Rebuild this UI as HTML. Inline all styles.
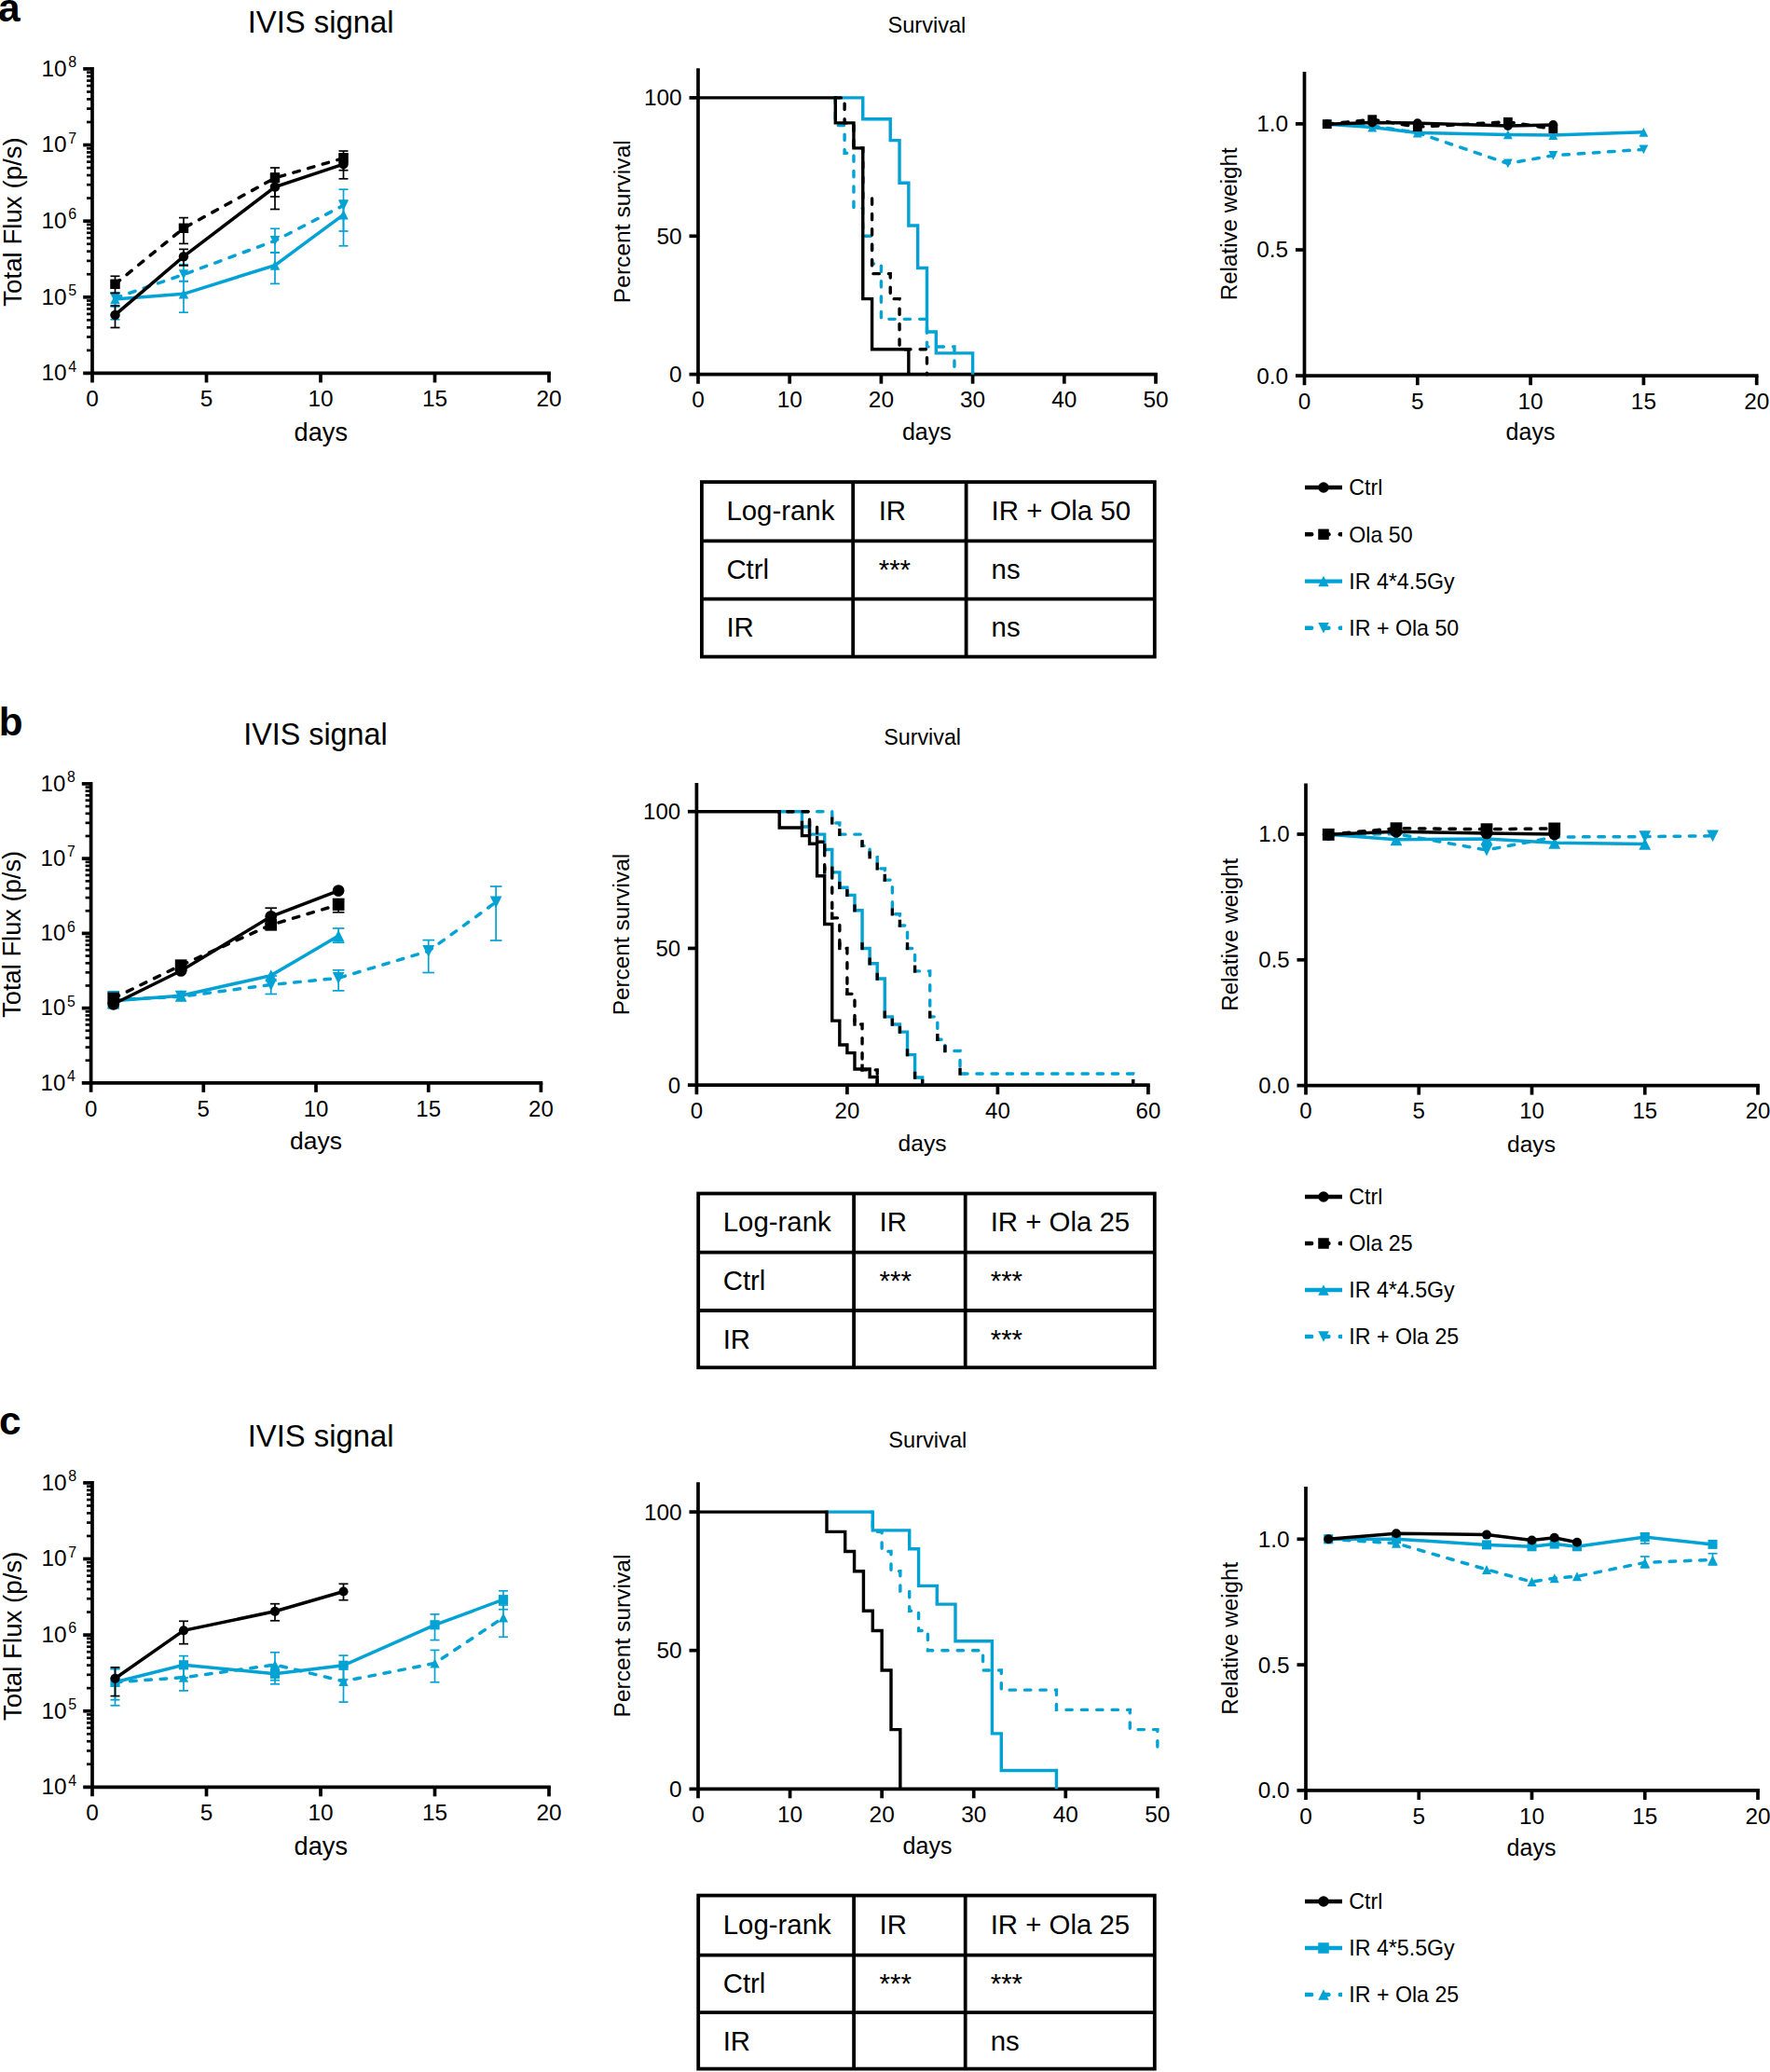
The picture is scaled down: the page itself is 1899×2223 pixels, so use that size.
<!DOCTYPE html>
<html lang="en">
<head>
<meta charset="utf-8">
<title>Figure</title>
<style>
html,body{margin:0;padding:0;background:#fff;}
body{width:1899px;height:2223px;overflow:hidden;}
svg{display:block;}
svg text{font-family:"Liberation Sans",sans-serif;fill:#000;}
</style>
</head>
<body>
<svg width="1899" height="2223" viewBox="0 0 1899 2223">
<rect width="1899" height="2223" fill="#fff"/>
<g id="panel-a">
<text x="-2" y="23" font-size="42.5" font-weight="bold">a</text>
<text x="344.1" y="35" font-size="32.8" text-anchor="middle">IVIS signal</text>
<line x1="99" y1="72.05" x2="99" y2="410.45" stroke="#000" stroke-width="3.7"/>
<line x1="89.2" y1="400.45" x2="590.85" y2="400.45" stroke="#000" stroke-width="3.7"/>
<text x="71.7" y="408.25" font-size="24.4" text-anchor="end">10</text>
<text x="73.3" y="398.75" font-size="16">4</text>
<line x1="93" y1="375.87" x2="99" y2="375.87" stroke="#000" stroke-width="2.7"/>
<line x1="93" y1="361.5" x2="99" y2="361.5" stroke="#000" stroke-width="2.7"/>
<line x1="93" y1="351.3" x2="99" y2="351.3" stroke="#000" stroke-width="2.7"/>
<line x1="93" y1="343.39" x2="99" y2="343.39" stroke="#000" stroke-width="2.7"/>
<line x1="93" y1="336.92" x2="99" y2="336.92" stroke="#000" stroke-width="2.7"/>
<line x1="93" y1="331.46" x2="99" y2="331.46" stroke="#000" stroke-width="2.7"/>
<line x1="93" y1="326.72" x2="99" y2="326.72" stroke="#000" stroke-width="2.7"/>
<line x1="93" y1="322.55" x2="99" y2="322.55" stroke="#000" stroke-width="2.7"/>
<line x1="89.2" y1="318.81" x2="99" y2="318.81" stroke="#000" stroke-width="3.7"/>
<text x="71.7" y="326.61" font-size="24.4" text-anchor="end">10</text>
<text x="73.3" y="317.11" font-size="16">5</text>
<line x1="93" y1="294.24" x2="99" y2="294.24" stroke="#000" stroke-width="2.7"/>
<line x1="93" y1="279.86" x2="99" y2="279.86" stroke="#000" stroke-width="2.7"/>
<line x1="93" y1="269.66" x2="99" y2="269.66" stroke="#000" stroke-width="2.7"/>
<line x1="93" y1="261.75" x2="99" y2="261.75" stroke="#000" stroke-width="2.7"/>
<line x1="93" y1="255.29" x2="99" y2="255.29" stroke="#000" stroke-width="2.7"/>
<line x1="93" y1="249.82" x2="99" y2="249.82" stroke="#000" stroke-width="2.7"/>
<line x1="93" y1="245.09" x2="99" y2="245.09" stroke="#000" stroke-width="2.7"/>
<line x1="93" y1="240.91" x2="99" y2="240.91" stroke="#000" stroke-width="2.7"/>
<line x1="89.2" y1="237.18" x2="99" y2="237.18" stroke="#000" stroke-width="3.7"/>
<text x="71.7" y="244.98" font-size="24.4" text-anchor="end">10</text>
<text x="73.3" y="235.48" font-size="16">6</text>
<line x1="93" y1="212.6" x2="99" y2="212.6" stroke="#000" stroke-width="2.7"/>
<line x1="93" y1="198.22" x2="99" y2="198.22" stroke="#000" stroke-width="2.7"/>
<line x1="93" y1="188.02" x2="99" y2="188.02" stroke="#000" stroke-width="2.7"/>
<line x1="93" y1="180.11" x2="99" y2="180.11" stroke="#000" stroke-width="2.7"/>
<line x1="93" y1="173.65" x2="99" y2="173.65" stroke="#000" stroke-width="2.7"/>
<line x1="93" y1="168.18" x2="99" y2="168.18" stroke="#000" stroke-width="2.7"/>
<line x1="93" y1="163.45" x2="99" y2="163.45" stroke="#000" stroke-width="2.7"/>
<line x1="93" y1="159.27" x2="99" y2="159.27" stroke="#000" stroke-width="2.7"/>
<line x1="89.2" y1="155.54" x2="99" y2="155.54" stroke="#000" stroke-width="3.7"/>
<text x="71.7" y="163.34" font-size="24.4" text-anchor="end">10</text>
<text x="73.3" y="153.84" font-size="16">7</text>
<line x1="93" y1="130.96" x2="99" y2="130.96" stroke="#000" stroke-width="2.7"/>
<line x1="93" y1="116.59" x2="99" y2="116.59" stroke="#000" stroke-width="2.7"/>
<line x1="93" y1="106.39" x2="99" y2="106.39" stroke="#000" stroke-width="2.7"/>
<line x1="93" y1="98.48" x2="99" y2="98.48" stroke="#000" stroke-width="2.7"/>
<line x1="93" y1="92.01" x2="99" y2="92.01" stroke="#000" stroke-width="2.7"/>
<line x1="93" y1="86.55" x2="99" y2="86.55" stroke="#000" stroke-width="2.7"/>
<line x1="93" y1="81.81" x2="99" y2="81.81" stroke="#000" stroke-width="2.7"/>
<line x1="93" y1="77.64" x2="99" y2="77.64" stroke="#000" stroke-width="2.7"/>
<line x1="89.2" y1="73.9" x2="99" y2="73.9" stroke="#000" stroke-width="3.7"/>
<text x="71.7" y="81.7" font-size="24.4" text-anchor="end">10</text>
<text x="73.3" y="72.2" font-size="16">8</text>
<text x="99" y="436.15" font-size="24.4" text-anchor="middle">0</text>
<line x1="221.5" y1="400.45" x2="221.5" y2="410.45" stroke="#000" stroke-width="3.7"/>
<text x="221.5" y="436.15" font-size="24.4" text-anchor="middle">5</text>
<line x1="344" y1="400.45" x2="344" y2="410.45" stroke="#000" stroke-width="3.7"/>
<text x="344" y="436.15" font-size="24.4" text-anchor="middle">10</text>
<line x1="466.5" y1="400.45" x2="466.5" y2="410.45" stroke="#000" stroke-width="3.7"/>
<text x="466.5" y="436.15" font-size="24.4" text-anchor="middle">15</text>
<line x1="589" y1="400.45" x2="589" y2="410.45" stroke="#000" stroke-width="3.7"/>
<text x="589" y="436.15" font-size="24.4" text-anchor="middle">20</text>
<text x="344.3" y="473" font-size="27.2" text-anchor="middle">days</text>
<text x="22.8" y="238" font-size="27.7" text-anchor="middle" transform="rotate(-90 22.8 238)">Total Flux (p/s)</text>
<line x1="123.5" y1="314.4" x2="123.5" y2="342.8" stroke="#03a2d4" stroke-width="1.7"/>
<line x1="118.5" y1="314.4" x2="128.5" y2="314.4" stroke="#03a2d4" stroke-width="1.7"/>
<line x1="118.5" y1="342.8" x2="128.5" y2="342.8" stroke="#03a2d4" stroke-width="1.7"/>
<line x1="197" y1="283.7" x2="197" y2="301.7" stroke="#03a2d4" stroke-width="1.7"/>
<line x1="192" y1="283.7" x2="202" y2="283.7" stroke="#03a2d4" stroke-width="1.7"/>
<line x1="192" y1="301.7" x2="202" y2="301.7" stroke="#03a2d4" stroke-width="1.7"/>
<line x1="295" y1="245.3" x2="295" y2="271" stroke="#03a2d4" stroke-width="1.7"/>
<line x1="290" y1="245.3" x2="300" y2="245.3" stroke="#03a2d4" stroke-width="1.7"/>
<line x1="290" y1="271" x2="300" y2="271" stroke="#03a2d4" stroke-width="1.7"/>
<line x1="368.5" y1="203.2" x2="368.5" y2="248" stroke="#03a2d4" stroke-width="1.7"/>
<line x1="363.5" y1="203.2" x2="373.5" y2="203.2" stroke="#03a2d4" stroke-width="1.7"/>
<line x1="363.5" y1="248" x2="373.5" y2="248" stroke="#03a2d4" stroke-width="1.7"/>
<path d="M123.5,319.8 L197,294.5 L295,258.3 L368.5,220.4" fill="none" stroke="#03a2d4" stroke-width="3.5" stroke-dasharray="6.5 9.75" stroke-linecap="round"/>
<polygon points="123.5,325.05 128.75,314.55 118.25,314.55" fill="#03a2d4"/>
<polygon points="197,299.75 202.25,289.25 191.75,289.25" fill="#03a2d4"/>
<polygon points="295,263.55 300.25,253.05 289.75,253.05" fill="#03a2d4"/>
<polygon points="368.5,225.65 373.75,215.15 363.25,215.15" fill="#03a2d4"/>
<line x1="123.5" y1="314.4" x2="123.5" y2="329" stroke="#03a2d4" stroke-width="1.7"/>
<line x1="118.5" y1="314.4" x2="128.5" y2="314.4" stroke="#03a2d4" stroke-width="1.7"/>
<line x1="118.5" y1="329" x2="128.5" y2="329" stroke="#03a2d4" stroke-width="1.7"/>
<line x1="197" y1="301.7" x2="197" y2="335.2" stroke="#03a2d4" stroke-width="1.7"/>
<line x1="192" y1="301.7" x2="202" y2="301.7" stroke="#03a2d4" stroke-width="1.7"/>
<line x1="192" y1="335.2" x2="202" y2="335.2" stroke="#03a2d4" stroke-width="1.7"/>
<line x1="295" y1="271" x2="295" y2="304.4" stroke="#03a2d4" stroke-width="1.7"/>
<line x1="290" y1="271" x2="300" y2="271" stroke="#03a2d4" stroke-width="1.7"/>
<line x1="290" y1="304.4" x2="300" y2="304.4" stroke="#03a2d4" stroke-width="1.7"/>
<line x1="368.5" y1="215" x2="368.5" y2="263.8" stroke="#03a2d4" stroke-width="1.7"/>
<line x1="363.5" y1="215" x2="373.5" y2="215" stroke="#03a2d4" stroke-width="1.7"/>
<line x1="363.5" y1="263.8" x2="373.5" y2="263.8" stroke="#03a2d4" stroke-width="1.7"/>
<path d="M123.5,321.1 L197,315.3 L295,284.6 L368.5,230.3" fill="none" stroke="#03a2d4" stroke-width="3.5"/>
<polygon points="123.5,315.85 128.75,326.35 118.25,326.35" fill="#03a2d4"/>
<polygon points="197,310.05 202.25,320.55 191.75,320.55" fill="#03a2d4"/>
<polygon points="295,279.35 300.25,289.85 289.75,289.85" fill="#03a2d4"/>
<polygon points="368.5,225.05 373.75,235.55 363.25,235.55" fill="#03a2d4"/>
<line x1="123.5" y1="296.3" x2="123.5" y2="314.4" stroke="#000" stroke-width="1.7"/>
<line x1="118.5" y1="296.3" x2="128.5" y2="296.3" stroke="#000" stroke-width="1.7"/>
<line x1="118.5" y1="314.4" x2="128.5" y2="314.4" stroke="#000" stroke-width="1.7"/>
<line x1="197" y1="233.6" x2="197" y2="261.4" stroke="#000" stroke-width="1.7"/>
<line x1="192" y1="233.6" x2="202" y2="233.6" stroke="#000" stroke-width="1.7"/>
<line x1="192" y1="261.4" x2="202" y2="261.4" stroke="#000" stroke-width="1.7"/>
<line x1="295" y1="180" x2="295" y2="211" stroke="#000" stroke-width="1.7"/>
<line x1="290" y1="180" x2="300" y2="180" stroke="#000" stroke-width="1.7"/>
<line x1="290" y1="211" x2="300" y2="211" stroke="#000" stroke-width="1.7"/>
<line x1="368.5" y1="162" x2="368.5" y2="182.7" stroke="#000" stroke-width="1.7"/>
<line x1="363.5" y1="162" x2="373.5" y2="162" stroke="#000" stroke-width="1.7"/>
<line x1="363.5" y1="182.7" x2="373.5" y2="182.7" stroke="#000" stroke-width="1.7"/>
<path d="M123.5,304.8 L197,244.8 L295,190.9 L368.5,169.7" fill="none" stroke="#000" stroke-width="3.5" stroke-dasharray="6.5 9.75" stroke-linecap="round"/>
<rect x="118.25" y="299.55" width="10.5" height="10.5" fill="#000"/>
<rect x="191.75" y="239.55" width="10.5" height="10.5" fill="#000"/>
<rect x="289.75" y="185.65" width="10.5" height="10.5" fill="#000"/>
<rect x="363.25" y="164.45" width="10.5" height="10.5" fill="#000"/>
<line x1="123.5" y1="328" x2="123.5" y2="351.5" stroke="#000" stroke-width="1.7"/>
<line x1="118.5" y1="328" x2="128.5" y2="328" stroke="#000" stroke-width="1.7"/>
<line x1="118.5" y1="351.5" x2="128.5" y2="351.5" stroke="#000" stroke-width="1.7"/>
<line x1="197" y1="267.4" x2="197" y2="284.9" stroke="#000" stroke-width="1.7"/>
<line x1="192" y1="267.4" x2="202" y2="267.4" stroke="#000" stroke-width="1.7"/>
<line x1="192" y1="284.9" x2="202" y2="284.9" stroke="#000" stroke-width="1.7"/>
<line x1="295" y1="186" x2="295" y2="224.5" stroke="#000" stroke-width="1.7"/>
<line x1="290" y1="186" x2="300" y2="186" stroke="#000" stroke-width="1.7"/>
<line x1="290" y1="224.5" x2="300" y2="224.5" stroke="#000" stroke-width="1.7"/>
<line x1="368.5" y1="165" x2="368.5" y2="191.8" stroke="#000" stroke-width="1.7"/>
<line x1="363.5" y1="165" x2="373.5" y2="165" stroke="#000" stroke-width="1.7"/>
<line x1="363.5" y1="191.8" x2="373.5" y2="191.8" stroke="#000" stroke-width="1.7"/>
<path d="M123.5,337.9 L197,275.2 L295,200.5 L368.5,176.1" fill="none" stroke="#000" stroke-width="3.5"/>
<circle cx="123.5" cy="337.9" r="5.25" fill="#000"/>
<circle cx="197" cy="275.2" r="5.25" fill="#000"/>
<circle cx="295" cy="200.5" r="5.25" fill="#000"/>
<circle cx="368.5" cy="176.1" r="5.25" fill="#000"/>
<text x="994.4" y="35.3" font-size="23.6" text-anchor="middle">Survival</text>
<line x1="749" y1="73.2" x2="749" y2="411.7" stroke="#000" stroke-width="3.7"/>
<line x1="739.5" y1="401.7" x2="1241.85" y2="401.7" stroke="#000" stroke-width="3.7"/>
<text x="731.7" y="410.1" font-size="24.4" text-anchor="end">0</text>
<line x1="739.5" y1="253.3" x2="749" y2="253.3" stroke="#000" stroke-width="3.7"/>
<text x="731.7" y="261.7" font-size="24.4" text-anchor="end">50</text>
<line x1="739.5" y1="104.9" x2="749" y2="104.9" stroke="#000" stroke-width="3.7"/>
<text x="731.7" y="113.3" font-size="24.4" text-anchor="end">100</text>
<text x="749" y="437.3" font-size="24.4" text-anchor="middle">0</text>
<line x1="847.2" y1="401.7" x2="847.2" y2="411.7" stroke="#000" stroke-width="3.7"/>
<text x="847.2" y="437.3" font-size="24.4" text-anchor="middle">10</text>
<line x1="945.4" y1="401.7" x2="945.4" y2="411.7" stroke="#000" stroke-width="3.7"/>
<text x="945.4" y="437.3" font-size="24.4" text-anchor="middle">20</text>
<line x1="1043.6" y1="401.7" x2="1043.6" y2="411.7" stroke="#000" stroke-width="3.7"/>
<text x="1043.6" y="437.3" font-size="24.4" text-anchor="middle">30</text>
<line x1="1141.8" y1="401.7" x2="1141.8" y2="411.7" stroke="#000" stroke-width="3.7"/>
<text x="1141.8" y="437.3" font-size="24.4" text-anchor="middle">40</text>
<line x1="1240" y1="401.7" x2="1240" y2="411.7" stroke="#000" stroke-width="3.7"/>
<text x="1240" y="437.3" font-size="24.4" text-anchor="middle">50</text>
<text x="994.3" y="471.5" font-size="25" text-anchor="middle">days</text>
<text x="676" y="237.7" font-size="24.6" text-anchor="middle" transform="rotate(-90 676 237.7)">Percent survival</text>
<path d="M894.34,104.9 H896.3 V134.58 H906.12 V164.26 H915.94 V223.62 H925.76 V253.3 H935.58 V282.98 H945.4 V342.34 H994.5 V372.02 H1023.96 V401.7" fill="none" stroke="#03a2d4" stroke-width="3.4" stroke-dasharray="6.3 10.1" stroke-dashoffset="145.84" stroke-linecap="round"/>
<path d="M894.34,104.9 H925.76 V127.75 H955.22 V150.61 H965.04 V196.31 H974.86 V242.02 H984.68 V287.43 H994.5 V355.99 H1004.32 V378.85 H1043.6 V401.7" fill="none" stroke="#03a2d4" stroke-width="3.4"/>
<path d="M894.34,104.9 H906.12 V131.91 H915.94 V158.92 H925.76 V212.94 H935.58 V293.66 H955.22 V320.67 H965.04 V374.69 H994.5 V401.7" fill="none" stroke="#000" stroke-width="3.4" stroke-dasharray="6.3 10.1" stroke-dashoffset="145.84" stroke-linecap="round"/>
<path d="M749,104.9 H896.3 V131.91 H915.94 V158.92 H925.76 V320.67 H935.58 V374.69 H974.86 V401.7" fill="none" stroke="#000" stroke-width="3.4"/>
<line x1="1399.5" y1="76.9" x2="1399.5" y2="413.2" stroke="#000" stroke-width="3.7"/>
<line x1="1390" y1="403.2" x2="1886.55" y2="403.2" stroke="#000" stroke-width="3.7"/>
<text x="1382.2" y="411.6" font-size="24.4" text-anchor="end">0.0</text>
<line x1="1390" y1="268.05" x2="1399.5" y2="268.05" stroke="#000" stroke-width="3.7"/>
<text x="1382.2" y="276.45" font-size="24.4" text-anchor="end">0.5</text>
<line x1="1390" y1="132.9" x2="1399.5" y2="132.9" stroke="#000" stroke-width="3.7"/>
<text x="1382.2" y="141.3" font-size="24.4" text-anchor="end">1.0</text>
<text x="1399.5" y="438.8" font-size="24.4" text-anchor="middle">0</text>
<line x1="1520.8" y1="403.2" x2="1520.8" y2="413.2" stroke="#000" stroke-width="3.7"/>
<text x="1520.8" y="438.8" font-size="24.4" text-anchor="middle">5</text>
<line x1="1642.1" y1="403.2" x2="1642.1" y2="413.2" stroke="#000" stroke-width="3.7"/>
<text x="1642.1" y="438.8" font-size="24.4" text-anchor="middle">10</text>
<line x1="1763.4" y1="403.2" x2="1763.4" y2="413.2" stroke="#000" stroke-width="3.7"/>
<text x="1763.4" y="438.8" font-size="24.4" text-anchor="middle">15</text>
<line x1="1884.7" y1="403.2" x2="1884.7" y2="413.2" stroke="#000" stroke-width="3.7"/>
<text x="1884.7" y="438.8" font-size="24.4" text-anchor="middle">20</text>
<text x="1642" y="472" font-size="25" text-anchor="middle">days</text>
<text x="1327" y="240.3" font-size="24.2" text-anchor="middle" transform="rotate(-90 1327 240.3)">Relative weight</text>
<path d="M1423.76,133.2 L1472.28,135 L1520.8,142.5 L1617.84,175.4 L1666.36,166.8 L1763.4,160.3" fill="none" stroke="#03a2d4" stroke-width="3.5" stroke-dasharray="6.5 9.75" stroke-linecap="round"/>
<polygon points="1423.76,138.1 1428.66,128.3 1418.86,128.3" fill="#03a2d4"/>
<polygon points="1472.28,139.9 1477.18,130.1 1467.38,130.1" fill="#03a2d4"/>
<polygon points="1520.8,147.4 1525.7,137.6 1515.9,137.6" fill="#03a2d4"/>
<polygon points="1617.84,180.3 1622.74,170.5 1612.94,170.5" fill="#03a2d4"/>
<polygon points="1666.36,171.7 1671.26,161.9 1661.46,161.9" fill="#03a2d4"/>
<polygon points="1763.4,165.2 1768.3,155.4 1758.5,155.4" fill="#03a2d4"/>
<path d="M1423.76,133.2 L1472.28,136.6 L1520.8,142.5 L1617.84,144.4 L1666.36,145.1 L1763.4,141.8" fill="none" stroke="#03a2d4" stroke-width="3.5"/>
<polygon points="1423.76,128.3 1428.66,138.1 1418.86,138.1" fill="#03a2d4"/>
<polygon points="1472.28,131.7 1477.18,141.5 1467.38,141.5" fill="#03a2d4"/>
<polygon points="1520.8,137.6 1525.7,147.4 1515.9,147.4" fill="#03a2d4"/>
<polygon points="1617.84,139.5 1622.74,149.3 1612.94,149.3" fill="#03a2d4"/>
<polygon points="1666.36,140.2 1671.26,150 1661.46,150" fill="#03a2d4"/>
<polygon points="1763.4,136.9 1768.3,146.7 1758.5,146.7" fill="#03a2d4"/>
<path d="M1423.76,133.2 L1472.28,128.2 L1520.8,136.2 L1617.84,130.8 L1666.36,138.2" fill="none" stroke="#000" stroke-width="3.5" stroke-dasharray="6.5 9.75" stroke-linecap="round"/>
<rect x="1418.86" y="128.3" width="9.8" height="9.8" fill="#000"/>
<rect x="1467.38" y="123.3" width="9.8" height="9.8" fill="#000"/>
<rect x="1515.9" y="131.3" width="9.8" height="9.8" fill="#000"/>
<rect x="1612.94" y="125.9" width="9.8" height="9.8" fill="#000"/>
<rect x="1661.46" y="133.3" width="9.8" height="9.8" fill="#000"/>
<path d="M1423.76,133.2 L1472.28,131.6 L1520.8,132.1 L1617.84,135 L1666.36,133.9" fill="none" stroke="#000" stroke-width="3.5"/>
<circle cx="1423.76" cy="133.2" r="4.9" fill="#000"/>
<circle cx="1472.28" cy="131.6" r="4.9" fill="#000"/>
<circle cx="1520.8" cy="132.1" r="4.9" fill="#000"/>
<circle cx="1617.84" cy="135" r="4.9" fill="#000"/>
<circle cx="1666.36" cy="133.9" r="4.9" fill="#000"/>
<rect x="752.9" y="517.1" width="485.9" height="187.5" fill="none" stroke="#000" stroke-width="3.8"/>
<line x1="915.2" y1="517.1" x2="915.2" y2="704.6" stroke="#000" stroke-width="3.8"/>
<line x1="1036.6" y1="517.1" x2="1036.6" y2="704.6" stroke="#000" stroke-width="3.8"/>
<line x1="752.9" y1="580.4" x2="1238.8" y2="580.4" stroke="#000" stroke-width="3.8"/>
<line x1="752.9" y1="642.6" x2="1238.8" y2="642.6" stroke="#000" stroke-width="3.8"/>
<text x="779.4" y="557.8" font-size="29.4">Log-rank</text>
<text x="942.7" y="557.8" font-size="29.4">IR</text>
<text x="1063.6" y="557.8" font-size="29.4">IR + Ola 50</text>
<text x="779.4" y="621.4" font-size="29.4">Ctrl</text>
<text x="942.7" y="621.4" font-size="29.4">***</text>
<text x="1063.6" y="621.4" font-size="29.4">ns</text>
<text x="779.4" y="682.9" font-size="29.4">IR</text>
<text x="1063.6" y="682.9" font-size="29.4">ns</text>
<line x1="1400" y1="523" x2="1440" y2="523" stroke="#000" stroke-width="4.4"/>
<circle cx="1420" cy="523" r="5.75" fill="#000"/>
<text x="1447.3" y="531.2" font-size="23.2">Ctrl</text>
<svg x="1400" y="567.3" width="40" height="12" viewBox="0 0 40 12">
<line x1="-3" y1="6" x2="7.2" y2="6" stroke="#000" stroke-width="4.4" stroke-linecap="round"/>
<line x1="19.9" y1="6" x2="25.5" y2="6" stroke="#000" stroke-width="4.4" stroke-linecap="round"/>
<line x1="37.7" y1="6" x2="46" y2="6" stroke="#000" stroke-width="4.4" stroke-linecap="round"/>
</svg>
<rect x="1414.25" y="567.55" width="11.5" height="11.5" fill="#000"/>
<text x="1447.3" y="581.5" font-size="23.2">Ola 50</text>
<line x1="1400" y1="623.6" x2="1440" y2="623.6" stroke="#03a2d4" stroke-width="4.4"/>
<polygon points="1420,617.85 1425.75,629.35 1414.25,629.35" fill="#03a2d4"/>
<text x="1447.3" y="631.8" font-size="23.2">IR 4*4.5Gy</text>
<svg x="1400" y="667.7" width="40" height="12" viewBox="0 0 40 12">
<line x1="-3" y1="6" x2="7.2" y2="6" stroke="#03a2d4" stroke-width="4.4" stroke-linecap="round"/>
<line x1="19.9" y1="6" x2="25.5" y2="6" stroke="#03a2d4" stroke-width="4.4" stroke-linecap="round"/>
<line x1="37.7" y1="6" x2="46" y2="6" stroke="#03a2d4" stroke-width="4.4" stroke-linecap="round"/>
</svg>
<polygon points="1420,679.45 1425.75,667.95 1414.25,667.95" fill="#03a2d4"/>
<text x="1447.3" y="681.9" font-size="23.2">IR + Ola 50</text>
</g>
<g id="panel-b">
<text x="-1.2" y="788.9" font-size="42.2" font-weight="bold">b</text>
<text x="338.5" y="799.3" font-size="32.3" text-anchor="middle">IVIS signal</text>
<line x1="97.6" y1="839.05" x2="97.6" y2="1171.85" stroke="#000" stroke-width="3.7"/>
<line x1="87.8" y1="1161.85" x2="582.25" y2="1161.85" stroke="#000" stroke-width="3.7"/>
<text x="70.3" y="1169.65" font-size="24" text-anchor="end">10</text>
<text x="71.9" y="1160.15" font-size="15.8">4</text>
<line x1="91.6" y1="1137.7" x2="97.6" y2="1137.7" stroke="#000" stroke-width="2.7"/>
<line x1="91.6" y1="1123.57" x2="97.6" y2="1123.57" stroke="#000" stroke-width="2.7"/>
<line x1="91.6" y1="1113.54" x2="97.6" y2="1113.54" stroke="#000" stroke-width="2.7"/>
<line x1="91.6" y1="1105.77" x2="97.6" y2="1105.77" stroke="#000" stroke-width="2.7"/>
<line x1="91.6" y1="1099.41" x2="97.6" y2="1099.41" stroke="#000" stroke-width="2.7"/>
<line x1="91.6" y1="1094.04" x2="97.6" y2="1094.04" stroke="#000" stroke-width="2.7"/>
<line x1="91.6" y1="1089.39" x2="97.6" y2="1089.39" stroke="#000" stroke-width="2.7"/>
<line x1="91.6" y1="1085.28" x2="97.6" y2="1085.28" stroke="#000" stroke-width="2.7"/>
<line x1="87.8" y1="1081.61" x2="97.6" y2="1081.61" stroke="#000" stroke-width="3.7"/>
<text x="70.3" y="1089.41" font-size="24" text-anchor="end">10</text>
<text x="71.9" y="1079.91" font-size="15.8">5</text>
<line x1="91.6" y1="1057.46" x2="97.6" y2="1057.46" stroke="#000" stroke-width="2.7"/>
<line x1="91.6" y1="1043.33" x2="97.6" y2="1043.33" stroke="#000" stroke-width="2.7"/>
<line x1="91.6" y1="1033.3" x2="97.6" y2="1033.3" stroke="#000" stroke-width="2.7"/>
<line x1="91.6" y1="1025.53" x2="97.6" y2="1025.53" stroke="#000" stroke-width="2.7"/>
<line x1="91.6" y1="1019.18" x2="97.6" y2="1019.18" stroke="#000" stroke-width="2.7"/>
<line x1="91.6" y1="1013.8" x2="97.6" y2="1013.8" stroke="#000" stroke-width="2.7"/>
<line x1="91.6" y1="1009.15" x2="97.6" y2="1009.15" stroke="#000" stroke-width="2.7"/>
<line x1="91.6" y1="1005.05" x2="97.6" y2="1005.05" stroke="#000" stroke-width="2.7"/>
<line x1="87.8" y1="1001.38" x2="97.6" y2="1001.38" stroke="#000" stroke-width="3.7"/>
<text x="70.3" y="1009.17" font-size="24" text-anchor="end">10</text>
<text x="71.9" y="999.67" font-size="15.8">6</text>
<line x1="91.6" y1="977.22" x2="97.6" y2="977.22" stroke="#000" stroke-width="2.7"/>
<line x1="91.6" y1="963.09" x2="97.6" y2="963.09" stroke="#000" stroke-width="2.7"/>
<line x1="91.6" y1="953.07" x2="97.6" y2="953.07" stroke="#000" stroke-width="2.7"/>
<line x1="91.6" y1="945.29" x2="97.6" y2="945.29" stroke="#000" stroke-width="2.7"/>
<line x1="91.6" y1="938.94" x2="97.6" y2="938.94" stroke="#000" stroke-width="2.7"/>
<line x1="91.6" y1="933.57" x2="97.6" y2="933.57" stroke="#000" stroke-width="2.7"/>
<line x1="91.6" y1="928.91" x2="97.6" y2="928.91" stroke="#000" stroke-width="2.7"/>
<line x1="91.6" y1="924.81" x2="97.6" y2="924.81" stroke="#000" stroke-width="2.7"/>
<line x1="87.8" y1="921.14" x2="97.6" y2="921.14" stroke="#000" stroke-width="3.7"/>
<text x="70.3" y="928.94" font-size="24" text-anchor="end">10</text>
<text x="71.9" y="919.44" font-size="15.8">7</text>
<line x1="91.6" y1="896.98" x2="97.6" y2="896.98" stroke="#000" stroke-width="2.7"/>
<line x1="91.6" y1="882.85" x2="97.6" y2="882.85" stroke="#000" stroke-width="2.7"/>
<line x1="91.6" y1="872.83" x2="97.6" y2="872.83" stroke="#000" stroke-width="2.7"/>
<line x1="91.6" y1="865.05" x2="97.6" y2="865.05" stroke="#000" stroke-width="2.7"/>
<line x1="91.6" y1="858.7" x2="97.6" y2="858.7" stroke="#000" stroke-width="2.7"/>
<line x1="91.6" y1="853.33" x2="97.6" y2="853.33" stroke="#000" stroke-width="2.7"/>
<line x1="91.6" y1="848.68" x2="97.6" y2="848.68" stroke="#000" stroke-width="2.7"/>
<line x1="91.6" y1="844.57" x2="97.6" y2="844.57" stroke="#000" stroke-width="2.7"/>
<line x1="87.8" y1="840.9" x2="97.6" y2="840.9" stroke="#000" stroke-width="3.7"/>
<text x="70.3" y="848.7" font-size="24" text-anchor="end">10</text>
<text x="71.9" y="839.2" font-size="15.8">8</text>
<text x="97.6" y="1197.55" font-size="24" text-anchor="middle">0</text>
<line x1="218.3" y1="1161.85" x2="218.3" y2="1171.85" stroke="#000" stroke-width="3.7"/>
<text x="218.3" y="1197.55" font-size="24" text-anchor="middle">5</text>
<line x1="339" y1="1161.85" x2="339" y2="1171.85" stroke="#000" stroke-width="3.7"/>
<text x="339" y="1197.55" font-size="24" text-anchor="middle">10</text>
<line x1="459.7" y1="1161.85" x2="459.7" y2="1171.85" stroke="#000" stroke-width="3.7"/>
<text x="459.7" y="1197.55" font-size="24" text-anchor="middle">15</text>
<line x1="580.4" y1="1161.85" x2="580.4" y2="1171.85" stroke="#000" stroke-width="3.7"/>
<text x="580.4" y="1197.55" font-size="24" text-anchor="middle">20</text>
<text x="339" y="1233" font-size="26.5" text-anchor="middle">days</text>
<text x="22.5" y="1002.3" font-size="27.3" text-anchor="middle" transform="rotate(-90 22.5 1002.3)">Total Flux (p/s)</text>
<line x1="121.74" y1="1063.8" x2="121.74" y2="1081.8" stroke="#03a2d4" stroke-width="1.7"/>
<line x1="115.44" y1="1063.8" x2="128.04" y2="1063.8" stroke="#03a2d4" stroke-width="1.7"/>
<line x1="115.44" y1="1081.8" x2="128.04" y2="1081.8" stroke="#03a2d4" stroke-width="1.7"/>
<line x1="290.72" y1="1047" x2="290.72" y2="1066.5" stroke="#03a2d4" stroke-width="1.7"/>
<line x1="284.42" y1="1047" x2="297.02" y2="1047" stroke="#03a2d4" stroke-width="1.7"/>
<line x1="284.42" y1="1066.5" x2="297.02" y2="1066.5" stroke="#03a2d4" stroke-width="1.7"/>
<line x1="363.14" y1="1040.8" x2="363.14" y2="1062.9" stroke="#03a2d4" stroke-width="1.7"/>
<line x1="356.84" y1="1040.8" x2="369.44" y2="1040.8" stroke="#03a2d4" stroke-width="1.7"/>
<line x1="356.84" y1="1062.9" x2="369.44" y2="1062.9" stroke="#03a2d4" stroke-width="1.7"/>
<line x1="459.7" y1="1008.6" x2="459.7" y2="1043.5" stroke="#03a2d4" stroke-width="1.7"/>
<line x1="453.4" y1="1008.6" x2="466" y2="1008.6" stroke="#03a2d4" stroke-width="1.7"/>
<line x1="453.4" y1="1043.5" x2="466" y2="1043.5" stroke="#03a2d4" stroke-width="1.7"/>
<line x1="532.12" y1="951" x2="532.12" y2="1009" stroke="#03a2d4" stroke-width="1.7"/>
<line x1="525.82" y1="951" x2="538.42" y2="951" stroke="#03a2d4" stroke-width="1.7"/>
<line x1="525.82" y1="1009" x2="538.42" y2="1009" stroke="#03a2d4" stroke-width="1.7"/>
<path d="M121.74,1072.8 L194.16,1069.2 L290.72,1056.5 L363.14,1049.3 L459.7,1020.4 L532.12,967.9" fill="none" stroke="#03a2d4" stroke-width="3.5" stroke-dasharray="6.5 9.75" stroke-linecap="round"/>
<polygon points="121.74,1079.15 128.09,1066.45 115.39,1066.45" fill="#03a2d4"/>
<polygon points="194.16,1075.55 200.51,1062.85 187.81,1062.85" fill="#03a2d4"/>
<polygon points="290.72,1062.85 297.07,1050.15 284.37,1050.15" fill="#03a2d4"/>
<polygon points="363.14,1055.65 369.49,1042.95 356.79,1042.95" fill="#03a2d4"/>
<polygon points="459.7,1026.75 466.05,1014.05 453.35,1014.05" fill="#03a2d4"/>
<polygon points="532.12,974.25 538.47,961.55 525.77,961.55" fill="#03a2d4"/>
<line x1="121.74" y1="1064.5" x2="121.74" y2="1081" stroke="#03a2d4" stroke-width="1.7"/>
<line x1="115.44" y1="1064.5" x2="128.04" y2="1064.5" stroke="#03a2d4" stroke-width="1.7"/>
<line x1="115.44" y1="1081" x2="128.04" y2="1081" stroke="#03a2d4" stroke-width="1.7"/>
<line x1="363.14" y1="996" x2="363.14" y2="1011.3" stroke="#03a2d4" stroke-width="1.7"/>
<line x1="356.84" y1="996" x2="369.44" y2="996" stroke="#03a2d4" stroke-width="1.7"/>
<line x1="356.84" y1="1011.3" x2="369.44" y2="1011.3" stroke="#03a2d4" stroke-width="1.7"/>
<path d="M121.74,1073.7 L194.16,1068.3 L290.72,1046.6 L363.14,1004.1" fill="none" stroke="#03a2d4" stroke-width="3.5"/>
<polygon points="121.74,1067.35 128.09,1080.05 115.39,1080.05" fill="#03a2d4"/>
<polygon points="194.16,1061.95 200.51,1074.65 187.81,1074.65" fill="#03a2d4"/>
<polygon points="290.72,1040.25 297.07,1052.95 284.37,1052.95" fill="#03a2d4"/>
<polygon points="363.14,997.75 369.49,1010.45 356.79,1010.45" fill="#03a2d4"/>
<line x1="363.14" y1="964.5" x2="363.14" y2="978.8" stroke="#000" stroke-width="1.7"/>
<line x1="356.84" y1="964.5" x2="369.44" y2="964.5" stroke="#000" stroke-width="1.7"/>
<line x1="356.84" y1="978.8" x2="369.44" y2="978.8" stroke="#000" stroke-width="1.7"/>
<path d="M121.74,1071 L194.16,1035.7 L290.72,992.3 L363.14,970.6" fill="none" stroke="#000" stroke-width="3.5" stroke-dasharray="6.5 9.75" stroke-linecap="round"/>
<rect x="115.39" y="1064.65" width="12.7" height="12.7" fill="#000"/>
<rect x="187.81" y="1029.35" width="12.7" height="12.7" fill="#000"/>
<rect x="284.37" y="985.95" width="12.7" height="12.7" fill="#000"/>
<rect x="356.79" y="964.25" width="12.7" height="12.7" fill="#000"/>
<line x1="290.72" y1="974.2" x2="290.72" y2="991" stroke="#000" stroke-width="1.7"/>
<line x1="284.42" y1="974.2" x2="297.02" y2="974.2" stroke="#000" stroke-width="1.7"/>
<line x1="284.42" y1="991" x2="297.02" y2="991" stroke="#000" stroke-width="1.7"/>
<path d="M121.74,1077.3 L194.16,1041.5 L290.72,983.3 L363.14,955.6" fill="none" stroke="#000" stroke-width="3.5"/>
<circle cx="121.74" cy="1077.3" r="6.35" fill="#000"/>
<circle cx="194.16" cy="1041.5" r="6.35" fill="#000"/>
<circle cx="290.72" cy="983.3" r="6.35" fill="#000"/>
<circle cx="363.14" cy="955.6" r="6.35" fill="#000"/>
<text x="989.6" y="799" font-size="23.3" text-anchor="middle">Survival</text>
<line x1="747.4" y1="840" x2="747.4" y2="1174.2" stroke="#000" stroke-width="3.7"/>
<line x1="737.9" y1="1164.2" x2="1233.75" y2="1164.2" stroke="#000" stroke-width="3.7"/>
<text x="730.1" y="1172.6" font-size="24" text-anchor="end">0</text>
<line x1="737.9" y1="1017.45" x2="747.4" y2="1017.45" stroke="#000" stroke-width="3.7"/>
<text x="730.1" y="1025.85" font-size="24" text-anchor="end">50</text>
<line x1="737.9" y1="870.7" x2="747.4" y2="870.7" stroke="#000" stroke-width="3.7"/>
<text x="730.1" y="879.1" font-size="24" text-anchor="end">100</text>
<text x="747.4" y="1199.8" font-size="24" text-anchor="middle">0</text>
<line x1="908.9" y1="1164.2" x2="908.9" y2="1174.2" stroke="#000" stroke-width="3.7"/>
<text x="908.9" y="1199.8" font-size="24" text-anchor="middle">20</text>
<line x1="1070.4" y1="1164.2" x2="1070.4" y2="1174.2" stroke="#000" stroke-width="3.7"/>
<text x="1070.4" y="1199.8" font-size="24" text-anchor="middle">40</text>
<line x1="1231.9" y1="1164.2" x2="1231.9" y2="1174.2" stroke="#000" stroke-width="3.7"/>
<text x="1231.9" y="1199.8" font-size="24" text-anchor="middle">60</text>
<text x="989.6" y="1235" font-size="24.6" text-anchor="middle">days</text>
<text x="675.5" y="1002.6" font-size="24.4" text-anchor="middle" transform="rotate(-90 675.5 1002.6)">Percent survival</text>
<path d="M834.61,870.7 H892.75 V882.93 H900.82 V895.16 H925.05 V907.39 H933.12 V919.62 H941.2 V931.85 H949.27 V944.08 H957.35 V980.76 H965.42 V992.99 H973.5 V1017.45 H981.57 V1041.91 H997.72 V1090.83 H1005.8 V1115.28 H1013.88 V1127.51 H1030.03 V1151.97 H1215.75 V1164.2" fill="none" stroke="#03a2d4" stroke-width="3.4" stroke-dasharray="6.3 9.86" stroke-dashoffset="87.21" stroke-linecap="round"/>
<line x1="892.75" y1="876.63" x2="892.75" y2="884.63" stroke="#000" stroke-width="3.4"/>
<line x1="900.82" y1="888.86" x2="900.82" y2="896.86" stroke="#000" stroke-width="3.4"/>
<line x1="925.05" y1="901.09" x2="925.05" y2="909.09" stroke="#000" stroke-width="3.4"/>
<line x1="933.12" y1="913.32" x2="933.12" y2="921.32" stroke="#000" stroke-width="3.4"/>
<line x1="941.2" y1="925.55" x2="941.2" y2="933.55" stroke="#000" stroke-width="3.4"/>
<line x1="949.27" y1="937.78" x2="949.27" y2="945.78" stroke="#000" stroke-width="3.4"/>
<line x1="957.35" y1="974.46" x2="957.35" y2="982.46" stroke="#000" stroke-width="3.4"/>
<line x1="965.42" y1="986.69" x2="965.42" y2="994.69" stroke="#000" stroke-width="3.4"/>
<line x1="973.5" y1="1011.15" x2="973.5" y2="1019.15" stroke="#000" stroke-width="3.4"/>
<line x1="981.57" y1="1035.61" x2="981.57" y2="1043.61" stroke="#000" stroke-width="3.4"/>
<line x1="997.72" y1="1084.53" x2="997.72" y2="1092.53" stroke="#000" stroke-width="3.4"/>
<line x1="1005.8" y1="1108.98" x2="1005.8" y2="1116.98" stroke="#000" stroke-width="3.4"/>
<line x1="1013.88" y1="1121.21" x2="1013.88" y2="1129.21" stroke="#000" stroke-width="3.4"/>
<line x1="1030.03" y1="1145.67" x2="1030.03" y2="1153.67" stroke="#000" stroke-width="3.4"/>
<line x1="1215.75" y1="1157.9" x2="1215.75" y2="1165.9" stroke="#000" stroke-width="3.4"/>
<path d="M834.61,870.7 H860.45 V887.01 H868.52 V895.16 H884.67 V911.46 H892.75 V935.92 H900.82 V952.23 H908.9 V960.38 H916.97 V976.69 H925.05 V1017.45 H933.12 V1033.76 H941.2 V1050.06 H949.27 V1090.83 H957.35 V1098.98 H965.42 V1107.13 H973.5 V1131.59 H981.57 V1156.05 H989.65 V1164.2" fill="none" stroke="#03a2d4" stroke-width="3.4"/>
<line x1="860.45" y1="880.71" x2="860.45" y2="888.71" stroke="#000" stroke-width="3.4"/>
<line x1="868.52" y1="888.86" x2="868.52" y2="896.86" stroke="#000" stroke-width="3.4"/>
<line x1="884.67" y1="905.16" x2="884.67" y2="913.16" stroke="#000" stroke-width="3.4"/>
<line x1="892.75" y1="929.62" x2="892.75" y2="937.62" stroke="#000" stroke-width="3.4"/>
<line x1="900.82" y1="945.93" x2="900.82" y2="953.93" stroke="#000" stroke-width="3.4"/>
<line x1="908.9" y1="954.08" x2="908.9" y2="962.08" stroke="#000" stroke-width="3.4"/>
<line x1="916.97" y1="970.39" x2="916.97" y2="978.39" stroke="#000" stroke-width="3.4"/>
<line x1="925.05" y1="1011.15" x2="925.05" y2="1019.15" stroke="#000" stroke-width="3.4"/>
<line x1="933.12" y1="1027.46" x2="933.12" y2="1035.46" stroke="#000" stroke-width="3.4"/>
<line x1="941.2" y1="1043.76" x2="941.2" y2="1051.76" stroke="#000" stroke-width="3.4"/>
<line x1="949.27" y1="1084.53" x2="949.27" y2="1092.53" stroke="#000" stroke-width="3.4"/>
<line x1="957.35" y1="1092.68" x2="957.35" y2="1100.68" stroke="#000" stroke-width="3.4"/>
<line x1="965.42" y1="1100.83" x2="965.42" y2="1108.83" stroke="#000" stroke-width="3.4"/>
<line x1="973.5" y1="1125.29" x2="973.5" y2="1133.29" stroke="#000" stroke-width="3.4"/>
<line x1="981.57" y1="1149.75" x2="981.57" y2="1157.75" stroke="#000" stroke-width="3.4"/>
<line x1="989.65" y1="1157.9" x2="989.65" y2="1165.9" stroke="#000" stroke-width="3.4"/>
<path d="M834.61,870.7 H868.52 V887.01 H876.6 V903.31 H884.67 V935.92 H892.75 V984.84 H900.82 V1017.45 H908.9 V1066.37 H916.97 V1098.98 H925.05 V1147.89 H941.2 V1164.2" fill="none" stroke="#000" stroke-width="3.4" stroke-dasharray="6.3 9.86" stroke-dashoffset="86.81" stroke-linecap="round"/>
<line x1="868.52" y1="880.71" x2="868.52" y2="888.71" stroke="#000" stroke-width="3.4"/>
<line x1="876.6" y1="897.01" x2="876.6" y2="905.01" stroke="#000" stroke-width="3.4"/>
<line x1="884.67" y1="929.62" x2="884.67" y2="937.62" stroke="#000" stroke-width="3.4"/>
<line x1="892.75" y1="978.54" x2="892.75" y2="986.54" stroke="#000" stroke-width="3.4"/>
<line x1="900.82" y1="1011.15" x2="900.82" y2="1019.15" stroke="#000" stroke-width="3.4"/>
<line x1="908.9" y1="1060.07" x2="908.9" y2="1068.07" stroke="#000" stroke-width="3.4"/>
<line x1="916.97" y1="1092.68" x2="916.97" y2="1100.68" stroke="#000" stroke-width="3.4"/>
<line x1="925.05" y1="1141.59" x2="925.05" y2="1149.59" stroke="#000" stroke-width="3.4"/>
<line x1="941.2" y1="1157.9" x2="941.2" y2="1165.9" stroke="#000" stroke-width="3.4"/>
<path d="M747.4,870.7 H836.22 V887.96 H860.45 V896.6 H868.52 V905.23 H876.6 V939.76 H884.67 V991.55 H892.75 V1095.14 H900.82 V1121.04 H908.9 V1129.67 H916.97 V1146.94 H933.12 V1155.57 H941.2 V1164.2" fill="none" stroke="#000" stroke-width="3.4"/>
<line x1="1401" y1="840.4" x2="1401" y2="1174.6" stroke="#000" stroke-width="3.7"/>
<line x1="1391.5" y1="1164.6" x2="1887.85" y2="1164.6" stroke="#000" stroke-width="3.7"/>
<text x="1383.7" y="1173" font-size="24" text-anchor="end">0.0</text>
<line x1="1391.5" y1="1029.8" x2="1401" y2="1029.8" stroke="#000" stroke-width="3.7"/>
<text x="1383.7" y="1038.2" font-size="24" text-anchor="end">0.5</text>
<line x1="1391.5" y1="895" x2="1401" y2="895" stroke="#000" stroke-width="3.7"/>
<text x="1383.7" y="903.4" font-size="24" text-anchor="end">1.0</text>
<text x="1401" y="1200.2" font-size="24" text-anchor="middle">0</text>
<line x1="1522.25" y1="1164.6" x2="1522.25" y2="1174.6" stroke="#000" stroke-width="3.7"/>
<text x="1522.25" y="1200.2" font-size="24" text-anchor="middle">5</text>
<line x1="1643.5" y1="1164.6" x2="1643.5" y2="1174.6" stroke="#000" stroke-width="3.7"/>
<text x="1643.5" y="1200.2" font-size="24" text-anchor="middle">10</text>
<line x1="1764.75" y1="1164.6" x2="1764.75" y2="1174.6" stroke="#000" stroke-width="3.7"/>
<text x="1764.75" y="1200.2" font-size="24" text-anchor="middle">15</text>
<line x1="1886" y1="1164.6" x2="1886" y2="1174.6" stroke="#000" stroke-width="3.7"/>
<text x="1886" y="1200.2" font-size="24" text-anchor="middle">20</text>
<text x="1643" y="1235.5" font-size="24.6" text-anchor="middle">days</text>
<text x="1327.6" y="1002.7" font-size="24.2" text-anchor="middle" transform="rotate(-90 1327.6 1002.7)">Relative weight</text>
<path d="M1425.25,895.3 L1498,894.7 L1595,912 L1667.75,898 L1764.75,897.6 L1837.5,896.8" fill="none" stroke="#03a2d4" stroke-width="3.5" stroke-dasharray="6.5 9.75" stroke-linecap="round"/>
<polygon points="1425.25,901.7 1431.65,888.9 1418.85,888.9" fill="#03a2d4"/>
<polygon points="1498,901.1 1504.4,888.3 1491.6,888.3" fill="#03a2d4"/>
<polygon points="1595,918.4 1601.4,905.6 1588.6,905.6" fill="#03a2d4"/>
<polygon points="1667.75,904.4 1674.15,891.6 1661.35,891.6" fill="#03a2d4"/>
<polygon points="1764.75,904 1771.15,891.2 1758.35,891.2" fill="#03a2d4"/>
<polygon points="1837.5,903.2 1843.9,890.4 1831.1,890.4" fill="#03a2d4"/>
<path d="M1425.25,895.3 L1498,900.8 L1595,900 L1667.75,904.3 L1764.75,905.4" fill="none" stroke="#03a2d4" stroke-width="3.5"/>
<polygon points="1425.25,888.9 1431.65,901.7 1418.85,901.7" fill="#03a2d4"/>
<polygon points="1498,894.4 1504.4,907.2 1491.6,907.2" fill="#03a2d4"/>
<polygon points="1595,893.6 1601.4,906.4 1588.6,906.4" fill="#03a2d4"/>
<polygon points="1667.75,897.9 1674.15,910.7 1661.35,910.7" fill="#03a2d4"/>
<polygon points="1764.75,899 1771.15,911.8 1758.35,911.8" fill="#03a2d4"/>
<path d="M1425.25,895.3 L1498,888.7 L1595,889.7 L1667.75,888.9" fill="none" stroke="#000" stroke-width="3.5" stroke-dasharray="6.5 9.75" stroke-linecap="round"/>
<rect x="1418.85" y="888.9" width="12.8" height="12.8" fill="#000"/>
<rect x="1491.6" y="882.3" width="12.8" height="12.8" fill="#000"/>
<rect x="1588.6" y="883.3" width="12.8" height="12.8" fill="#000"/>
<rect x="1661.35" y="882.5" width="12.8" height="12.8" fill="#000"/>
<path d="M1425.25,895.3 L1498,892.3 L1595,893.9 L1667.75,894.9" fill="none" stroke="#000" stroke-width="3.5"/>
<circle cx="1425.25" cy="895.3" r="6.4" fill="#000"/>
<circle cx="1498" cy="892.3" r="6.4" fill="#000"/>
<circle cx="1595" cy="893.9" r="6.4" fill="#000"/>
<circle cx="1667.75" cy="894.9" r="6.4" fill="#000"/>
<rect x="749.2" y="1280.5" width="489.6" height="186.7" fill="none" stroke="#000" stroke-width="3.8"/>
<line x1="916.1" y1="1280.5" x2="916.1" y2="1467.2" stroke="#000" stroke-width="3.8"/>
<line x1="1035.7" y1="1280.5" x2="1035.7" y2="1467.2" stroke="#000" stroke-width="3.8"/>
<line x1="749.2" y1="1343.6" x2="1238.8" y2="1343.6" stroke="#000" stroke-width="3.8"/>
<line x1="749.2" y1="1406" x2="1238.8" y2="1406" stroke="#000" stroke-width="3.8"/>
<text x="775.7" y="1320.8" font-size="29.4">Log-rank</text>
<text x="943.6" y="1320.8" font-size="29.4">IR</text>
<text x="1062.7" y="1320.8" font-size="29.4">IR + Ola 25</text>
<text x="775.7" y="1384.2" font-size="29.4">Ctrl</text>
<text x="943.6" y="1384.2" font-size="29.4">***</text>
<text x="1062.7" y="1384.2" font-size="29.4">***</text>
<text x="775.7" y="1446.8" font-size="29.4">IR</text>
<text x="1062.7" y="1446.8" font-size="29.4">***</text>
<line x1="1400" y1="1284" x2="1440" y2="1284" stroke="#000" stroke-width="4.4"/>
<circle cx="1420" cy="1284" r="5.75" fill="#000"/>
<text x="1447.3" y="1292.2" font-size="23.2">Ctrl</text>
<svg x="1400" y="1328" width="40" height="12" viewBox="0 0 40 12">
<line x1="-3" y1="6" x2="7.2" y2="6" stroke="#000" stroke-width="4.4" stroke-linecap="round"/>
<line x1="19.9" y1="6" x2="25.5" y2="6" stroke="#000" stroke-width="4.4" stroke-linecap="round"/>
<line x1="37.7" y1="6" x2="46" y2="6" stroke="#000" stroke-width="4.4" stroke-linecap="round"/>
</svg>
<rect x="1414.25" y="1328.25" width="11.5" height="11.5" fill="#000"/>
<text x="1447.3" y="1342.2" font-size="23.2">Ola 25</text>
<line x1="1400" y1="1384" x2="1440" y2="1384" stroke="#03a2d4" stroke-width="4.4"/>
<polygon points="1420,1378.25 1425.75,1389.75 1414.25,1389.75" fill="#03a2d4"/>
<text x="1447.3" y="1392.2" font-size="23.2">IR 4*4.5Gy</text>
<svg x="1400" y="1428" width="40" height="12" viewBox="0 0 40 12">
<line x1="-3" y1="6" x2="7.2" y2="6" stroke="#03a2d4" stroke-width="4.4" stroke-linecap="round"/>
<line x1="19.9" y1="6" x2="25.5" y2="6" stroke="#03a2d4" stroke-width="4.4" stroke-linecap="round"/>
<line x1="37.7" y1="6" x2="46" y2="6" stroke="#03a2d4" stroke-width="4.4" stroke-linecap="round"/>
</svg>
<polygon points="1420,1439.75 1425.75,1428.25 1414.25,1428.25" fill="#03a2d4"/>
<text x="1447.3" y="1442.2" font-size="23.2">IR + Ola 25</text>
</g>
<g id="panel-c">
<text x="-1" y="1539.1" font-size="42.5" font-weight="bold">c</text>
<text x="344.1" y="1551.6" font-size="32.8" text-anchor="middle">IVIS signal</text>
<line x1="99" y1="1589.05" x2="99" y2="1927.35" stroke="#000" stroke-width="3.7"/>
<line x1="89.2" y1="1917.35" x2="590.85" y2="1917.35" stroke="#000" stroke-width="3.7"/>
<text x="71.7" y="1925.15" font-size="24.4" text-anchor="end">10</text>
<text x="73.3" y="1915.65" font-size="16">4</text>
<line x1="93" y1="1892.78" x2="99" y2="1892.78" stroke="#000" stroke-width="2.7"/>
<line x1="93" y1="1878.41" x2="99" y2="1878.41" stroke="#000" stroke-width="2.7"/>
<line x1="93" y1="1868.21" x2="99" y2="1868.21" stroke="#000" stroke-width="2.7"/>
<line x1="93" y1="1860.31" x2="99" y2="1860.31" stroke="#000" stroke-width="2.7"/>
<line x1="93" y1="1853.84" x2="99" y2="1853.84" stroke="#000" stroke-width="2.7"/>
<line x1="93" y1="1848.38" x2="99" y2="1848.38" stroke="#000" stroke-width="2.7"/>
<line x1="93" y1="1843.65" x2="99" y2="1843.65" stroke="#000" stroke-width="2.7"/>
<line x1="93" y1="1839.47" x2="99" y2="1839.47" stroke="#000" stroke-width="2.7"/>
<line x1="89.2" y1="1835.74" x2="99" y2="1835.74" stroke="#000" stroke-width="3.7"/>
<text x="71.7" y="1843.54" font-size="24.4" text-anchor="end">10</text>
<text x="73.3" y="1834.04" font-size="16">5</text>
<line x1="93" y1="1811.17" x2="99" y2="1811.17" stroke="#000" stroke-width="2.7"/>
<line x1="93" y1="1796.8" x2="99" y2="1796.8" stroke="#000" stroke-width="2.7"/>
<line x1="93" y1="1786.6" x2="99" y2="1786.6" stroke="#000" stroke-width="2.7"/>
<line x1="93" y1="1778.69" x2="99" y2="1778.69" stroke="#000" stroke-width="2.7"/>
<line x1="93" y1="1772.23" x2="99" y2="1772.23" stroke="#000" stroke-width="2.7"/>
<line x1="93" y1="1766.77" x2="99" y2="1766.77" stroke="#000" stroke-width="2.7"/>
<line x1="93" y1="1762.03" x2="99" y2="1762.03" stroke="#000" stroke-width="2.7"/>
<line x1="93" y1="1757.86" x2="99" y2="1757.86" stroke="#000" stroke-width="2.7"/>
<line x1="89.2" y1="1754.12" x2="99" y2="1754.12" stroke="#000" stroke-width="3.7"/>
<text x="71.7" y="1761.92" font-size="24.4" text-anchor="end">10</text>
<text x="73.3" y="1752.42" font-size="16">6</text>
<line x1="93" y1="1729.56" x2="99" y2="1729.56" stroke="#000" stroke-width="2.7"/>
<line x1="93" y1="1715.19" x2="99" y2="1715.19" stroke="#000" stroke-width="2.7"/>
<line x1="93" y1="1704.99" x2="99" y2="1704.99" stroke="#000" stroke-width="2.7"/>
<line x1="93" y1="1697.08" x2="99" y2="1697.08" stroke="#000" stroke-width="2.7"/>
<line x1="93" y1="1690.62" x2="99" y2="1690.62" stroke="#000" stroke-width="2.7"/>
<line x1="93" y1="1685.15" x2="99" y2="1685.15" stroke="#000" stroke-width="2.7"/>
<line x1="93" y1="1680.42" x2="99" y2="1680.42" stroke="#000" stroke-width="2.7"/>
<line x1="93" y1="1676.25" x2="99" y2="1676.25" stroke="#000" stroke-width="2.7"/>
<line x1="89.2" y1="1672.51" x2="99" y2="1672.51" stroke="#000" stroke-width="3.7"/>
<text x="71.7" y="1680.31" font-size="24.4" text-anchor="end">10</text>
<text x="73.3" y="1670.81" font-size="16">7</text>
<line x1="93" y1="1647.94" x2="99" y2="1647.94" stroke="#000" stroke-width="2.7"/>
<line x1="93" y1="1633.57" x2="99" y2="1633.57" stroke="#000" stroke-width="2.7"/>
<line x1="93" y1="1623.38" x2="99" y2="1623.38" stroke="#000" stroke-width="2.7"/>
<line x1="93" y1="1615.47" x2="99" y2="1615.47" stroke="#000" stroke-width="2.7"/>
<line x1="93" y1="1609.01" x2="99" y2="1609.01" stroke="#000" stroke-width="2.7"/>
<line x1="93" y1="1603.54" x2="99" y2="1603.54" stroke="#000" stroke-width="2.7"/>
<line x1="93" y1="1598.81" x2="99" y2="1598.81" stroke="#000" stroke-width="2.7"/>
<line x1="93" y1="1594.63" x2="99" y2="1594.63" stroke="#000" stroke-width="2.7"/>
<line x1="89.2" y1="1590.9" x2="99" y2="1590.9" stroke="#000" stroke-width="3.7"/>
<text x="71.7" y="1598.7" font-size="24.4" text-anchor="end">10</text>
<text x="73.3" y="1589.2" font-size="16">8</text>
<text x="99" y="1953.05" font-size="24.4" text-anchor="middle">0</text>
<line x1="221.5" y1="1917.35" x2="221.5" y2="1927.35" stroke="#000" stroke-width="3.7"/>
<text x="221.5" y="1953.05" font-size="24.4" text-anchor="middle">5</text>
<line x1="344" y1="1917.35" x2="344" y2="1927.35" stroke="#000" stroke-width="3.7"/>
<text x="344" y="1953.05" font-size="24.4" text-anchor="middle">10</text>
<line x1="466.5" y1="1917.35" x2="466.5" y2="1927.35" stroke="#000" stroke-width="3.7"/>
<text x="466.5" y="1953.05" font-size="24.4" text-anchor="middle">15</text>
<line x1="589" y1="1917.35" x2="589" y2="1927.35" stroke="#000" stroke-width="3.7"/>
<text x="589" y="1953.05" font-size="24.4" text-anchor="middle">20</text>
<text x="344.3" y="1990" font-size="27.2" text-anchor="middle">days</text>
<text x="22.8" y="1755.3" font-size="27.7" text-anchor="middle" transform="rotate(-90 22.8 1755.3)">Total Flux (p/s)</text>
<line x1="123.5" y1="1790.5" x2="123.5" y2="1829.8" stroke="#03a2d4" stroke-width="1.7"/>
<line x1="118.5" y1="1790.5" x2="128.5" y2="1790.5" stroke="#03a2d4" stroke-width="1.7"/>
<line x1="118.5" y1="1829.8" x2="128.5" y2="1829.8" stroke="#03a2d4" stroke-width="1.7"/>
<line x1="197" y1="1789" x2="197" y2="1813.9" stroke="#03a2d4" stroke-width="1.7"/>
<line x1="192" y1="1789" x2="202" y2="1789" stroke="#03a2d4" stroke-width="1.7"/>
<line x1="192" y1="1813.9" x2="202" y2="1813.9" stroke="#03a2d4" stroke-width="1.7"/>
<line x1="295" y1="1772.75" x2="295" y2="1806.8" stroke="#03a2d4" stroke-width="1.7"/>
<line x1="290" y1="1772.75" x2="300" y2="1772.75" stroke="#03a2d4" stroke-width="1.7"/>
<line x1="290" y1="1806.8" x2="300" y2="1806.8" stroke="#03a2d4" stroke-width="1.7"/>
<line x1="368.5" y1="1788" x2="368.5" y2="1826.1" stroke="#03a2d4" stroke-width="1.7"/>
<line x1="363.5" y1="1788" x2="373.5" y2="1788" stroke="#03a2d4" stroke-width="1.7"/>
<line x1="363.5" y1="1826.1" x2="373.5" y2="1826.1" stroke="#03a2d4" stroke-width="1.7"/>
<line x1="466.5" y1="1770.4" x2="466.5" y2="1804.8" stroke="#03a2d4" stroke-width="1.7"/>
<line x1="461.5" y1="1770.4" x2="471.5" y2="1770.4" stroke="#03a2d4" stroke-width="1.7"/>
<line x1="461.5" y1="1804.8" x2="471.5" y2="1804.8" stroke="#03a2d4" stroke-width="1.7"/>
<line x1="540" y1="1722" x2="540" y2="1756.3" stroke="#03a2d4" stroke-width="1.7"/>
<line x1="535" y1="1722" x2="545" y2="1722" stroke="#03a2d4" stroke-width="1.7"/>
<line x1="535" y1="1756.3" x2="545" y2="1756.3" stroke="#03a2d4" stroke-width="1.7"/>
<path d="M123.5,1804.8 L197,1799.7 L295,1786 L368.5,1803.8 L466.5,1784.5 L540,1735.5" fill="none" stroke="#03a2d4" stroke-width="3.5" stroke-dasharray="6.5 9.75" stroke-linecap="round"/>
<polygon points="123.5,1799.7 128.6,1809.9 118.4,1809.9" fill="#03a2d4"/>
<polygon points="197,1794.6 202.1,1804.8 191.9,1804.8" fill="#03a2d4"/>
<polygon points="295,1780.9 300.1,1791.1 289.9,1791.1" fill="#03a2d4"/>
<polygon points="368.5,1798.7 373.6,1808.9 363.4,1808.9" fill="#03a2d4"/>
<polygon points="466.5,1779.4 471.6,1789.6 461.4,1789.6" fill="#03a2d4"/>
<polygon points="540,1730.4 545.1,1740.6 534.9,1740.6" fill="#03a2d4"/>
<line x1="123.5" y1="1790.5" x2="123.5" y2="1823.7" stroke="#03a2d4" stroke-width="1.7"/>
<line x1="118.5" y1="1790.5" x2="128.5" y2="1790.5" stroke="#03a2d4" stroke-width="1.7"/>
<line x1="118.5" y1="1823.7" x2="128.5" y2="1823.7" stroke="#03a2d4" stroke-width="1.7"/>
<line x1="197" y1="1776.6" x2="197" y2="1800" stroke="#03a2d4" stroke-width="1.7"/>
<line x1="192" y1="1776.6" x2="202" y2="1776.6" stroke="#03a2d4" stroke-width="1.7"/>
<line x1="192" y1="1800" x2="202" y2="1800" stroke="#03a2d4" stroke-width="1.7"/>
<line x1="295" y1="1788.5" x2="295" y2="1802.7" stroke="#03a2d4" stroke-width="1.7"/>
<line x1="290" y1="1788.5" x2="300" y2="1788.5" stroke="#03a2d4" stroke-width="1.7"/>
<line x1="290" y1="1802.7" x2="300" y2="1802.7" stroke="#03a2d4" stroke-width="1.7"/>
<line x1="368.5" y1="1776.1" x2="368.5" y2="1802" stroke="#03a2d4" stroke-width="1.7"/>
<line x1="363.5" y1="1776.1" x2="373.5" y2="1776.1" stroke="#03a2d4" stroke-width="1.7"/>
<line x1="363.5" y1="1802" x2="373.5" y2="1802" stroke="#03a2d4" stroke-width="1.7"/>
<line x1="466.5" y1="1731.9" x2="466.5" y2="1759.6" stroke="#03a2d4" stroke-width="1.7"/>
<line x1="461.5" y1="1731.9" x2="471.5" y2="1731.9" stroke="#03a2d4" stroke-width="1.7"/>
<line x1="461.5" y1="1759.6" x2="471.5" y2="1759.6" stroke="#03a2d4" stroke-width="1.7"/>
<line x1="540" y1="1706.8" x2="540" y2="1726.7" stroke="#03a2d4" stroke-width="1.7"/>
<line x1="535" y1="1706.8" x2="545" y2="1706.8" stroke="#03a2d4" stroke-width="1.7"/>
<line x1="535" y1="1726.7" x2="545" y2="1726.7" stroke="#03a2d4" stroke-width="1.7"/>
<path d="M123.5,1804.8 L197,1786.3 L295,1795.8 L368.5,1786.8 L466.5,1743.3 L540,1716.2" fill="none" stroke="#03a2d4" stroke-width="3.5"/>
<rect x="118.4" y="1799.7" width="10.2" height="10.2" fill="#03a2d4"/>
<rect x="191.9" y="1781.2" width="10.2" height="10.2" fill="#03a2d4"/>
<rect x="289.9" y="1790.7" width="10.2" height="10.2" fill="#03a2d4"/>
<rect x="363.4" y="1781.7" width="10.2" height="10.2" fill="#03a2d4"/>
<rect x="461.4" y="1738.2" width="10.2" height="10.2" fill="#03a2d4"/>
<rect x="534.9" y="1711.1" width="10.2" height="10.2" fill="#03a2d4"/>
<line x1="123.5" y1="1788.9" x2="123.5" y2="1819.6" stroke="#000" stroke-width="1.7"/>
<line x1="118.5" y1="1788.9" x2="128.5" y2="1788.9" stroke="#000" stroke-width="1.7"/>
<line x1="118.5" y1="1819.6" x2="128.5" y2="1819.6" stroke="#000" stroke-width="1.7"/>
<line x1="197" y1="1739.3" x2="197" y2="1763.7" stroke="#000" stroke-width="1.7"/>
<line x1="192" y1="1739.3" x2="202" y2="1739.3" stroke="#000" stroke-width="1.7"/>
<line x1="192" y1="1763.7" x2="202" y2="1763.7" stroke="#000" stroke-width="1.7"/>
<line x1="295" y1="1720.7" x2="295" y2="1738.8" stroke="#000" stroke-width="1.7"/>
<line x1="290" y1="1720.7" x2="300" y2="1720.7" stroke="#000" stroke-width="1.7"/>
<line x1="290" y1="1738.8" x2="300" y2="1738.8" stroke="#000" stroke-width="1.7"/>
<line x1="368.5" y1="1699.3" x2="368.5" y2="1716.7" stroke="#000" stroke-width="1.7"/>
<line x1="363.5" y1="1699.3" x2="373.5" y2="1699.3" stroke="#000" stroke-width="1.7"/>
<line x1="363.5" y1="1716.7" x2="373.5" y2="1716.7" stroke="#000" stroke-width="1.7"/>
<path d="M123.5,1800.8 L197,1749.3 L295,1728.8 L368.5,1707.5" fill="none" stroke="#000" stroke-width="3.5"/>
<circle cx="123.5" cy="1800.8" r="5.1" fill="#000"/>
<circle cx="197" cy="1749.3" r="5.1" fill="#000"/>
<circle cx="295" cy="1728.8" r="5.1" fill="#000"/>
<circle cx="368.5" cy="1707.5" r="5.1" fill="#000"/>
<text x="995.3" y="1552.7" font-size="23.6" text-anchor="middle">Survival</text>
<line x1="749" y1="1590.3" x2="749" y2="1929.3" stroke="#000" stroke-width="3.7"/>
<line x1="739.5" y1="1919.3" x2="1243.7" y2="1919.3" stroke="#000" stroke-width="3.7"/>
<text x="731.7" y="1927.7" font-size="24.4" text-anchor="end">0</text>
<line x1="739.5" y1="1770.7" x2="749" y2="1770.7" stroke="#000" stroke-width="3.7"/>
<text x="731.7" y="1779.1" font-size="24.4" text-anchor="end">50</text>
<line x1="739.5" y1="1622.1" x2="749" y2="1622.1" stroke="#000" stroke-width="3.7"/>
<text x="731.7" y="1630.5" font-size="24.4" text-anchor="end">100</text>
<text x="749" y="1954.9" font-size="24.4" text-anchor="middle">0</text>
<line x1="847.57" y1="1919.3" x2="847.57" y2="1929.3" stroke="#000" stroke-width="3.7"/>
<text x="847.57" y="1954.9" font-size="24.4" text-anchor="middle">10</text>
<line x1="946.14" y1="1919.3" x2="946.14" y2="1929.3" stroke="#000" stroke-width="3.7"/>
<text x="946.14" y="1954.9" font-size="24.4" text-anchor="middle">20</text>
<line x1="1044.71" y1="1919.3" x2="1044.71" y2="1929.3" stroke="#000" stroke-width="3.7"/>
<text x="1044.71" y="1954.9" font-size="24.4" text-anchor="middle">30</text>
<line x1="1143.28" y1="1919.3" x2="1143.28" y2="1929.3" stroke="#000" stroke-width="3.7"/>
<text x="1143.28" y="1954.9" font-size="24.4" text-anchor="middle">40</text>
<line x1="1241.85" y1="1919.3" x2="1241.85" y2="1929.3" stroke="#000" stroke-width="3.7"/>
<text x="1241.85" y="1954.9" font-size="24.4" text-anchor="middle">50</text>
<text x="995" y="1989" font-size="25" text-anchor="middle">days</text>
<text x="675.8" y="1755" font-size="24.6" text-anchor="middle" transform="rotate(-90 675.8 1755)">Percent survival</text>
<path d="M934.31,1622.1 H936.28 V1643.33 H946.14 V1664.56 H956 V1685.79 H965.85 V1707.01 H975.71 V1728.24 H985.57 V1749.47 H995.42 V1770.7 H1054.57 V1791.93 H1074.28 V1813.16 H1133.42 V1834.39 H1212.28 V1855.61 H1241.85 V1876.84" fill="none" stroke="#03a2d4" stroke-width="3.4" stroke-dasharray="6.3 10.1" stroke-dashoffset="184.91" stroke-linecap="round"/>
<path d="M885.03,1622.1 H936.28 V1641.91 H975.71 V1661.73 H985.57 V1701.35 H1005.28 V1721.17 H1025 V1760.79 H1064.42 V1859.86 H1074.28 V1899.49 H1133.42 V1919.3" fill="none" stroke="#03a2d4" stroke-width="3.4"/>
<path d="M749,1622.1 H887 V1643.33 H906.71 V1664.56 H916.57 V1685.79 H926.43 V1728.24 H936.28 V1749.47 H946.14 V1791.93 H956 V1855.61 H965.85 V1919.3" fill="none" stroke="#000" stroke-width="3.4"/>
<line x1="1401" y1="1595" x2="1401" y2="1930.9" stroke="#000" stroke-width="3.7"/>
<line x1="1391.5" y1="1920.9" x2="1887.85" y2="1920.9" stroke="#000" stroke-width="3.7"/>
<text x="1383.7" y="1929.3" font-size="24.4" text-anchor="end">0.0</text>
<line x1="1391.5" y1="1786.1" x2="1401" y2="1786.1" stroke="#000" stroke-width="3.7"/>
<text x="1383.7" y="1794.5" font-size="24.4" text-anchor="end">0.5</text>
<line x1="1391.5" y1="1651.3" x2="1401" y2="1651.3" stroke="#000" stroke-width="3.7"/>
<text x="1383.7" y="1659.7" font-size="24.4" text-anchor="end">1.0</text>
<text x="1401" y="1956.5" font-size="24.4" text-anchor="middle">0</text>
<line x1="1522.25" y1="1920.9" x2="1522.25" y2="1930.9" stroke="#000" stroke-width="3.7"/>
<text x="1522.25" y="1956.5" font-size="24.4" text-anchor="middle">5</text>
<line x1="1643.5" y1="1920.9" x2="1643.5" y2="1930.9" stroke="#000" stroke-width="3.7"/>
<text x="1643.5" y="1956.5" font-size="24.4" text-anchor="middle">10</text>
<line x1="1764.75" y1="1920.9" x2="1764.75" y2="1930.9" stroke="#000" stroke-width="3.7"/>
<text x="1764.75" y="1956.5" font-size="24.4" text-anchor="middle">15</text>
<line x1="1886" y1="1920.9" x2="1886" y2="1930.9" stroke="#000" stroke-width="3.7"/>
<text x="1886" y="1956.5" font-size="24.4" text-anchor="middle">20</text>
<text x="1643" y="1991" font-size="25" text-anchor="middle">days</text>
<text x="1328.3" y="1757.8" font-size="24.2" text-anchor="middle" transform="rotate(-90 1328.3 1757.8)">Relative weight</text>
<line x1="1764.75" y1="1670" x2="1764.75" y2="1681.9" stroke="#03a2d4" stroke-width="1.7"/>
<line x1="1759.75" y1="1670" x2="1769.75" y2="1670" stroke="#03a2d4" stroke-width="1.7"/>
<line x1="1759.75" y1="1681.9" x2="1769.75" y2="1681.9" stroke="#03a2d4" stroke-width="1.7"/>
<line x1="1837.5" y1="1666.7" x2="1837.5" y2="1679" stroke="#03a2d4" stroke-width="1.7"/>
<line x1="1832.5" y1="1666.7" x2="1842.5" y2="1666.7" stroke="#03a2d4" stroke-width="1.7"/>
<line x1="1832.5" y1="1679" x2="1842.5" y2="1679" stroke="#03a2d4" stroke-width="1.7"/>
<path d="M1425.25,1651.2 L1498,1655.8 L1595,1683.9 L1643.5,1697.1 L1667.75,1693.2 L1692,1691.3 L1764.75,1676.4 L1837.5,1673.4" fill="none" stroke="#03a2d4" stroke-width="3.5" stroke-dasharray="6.5 9.75" stroke-linecap="round"/>
<polygon points="1425.25,1646.2 1430.25,1656.2 1420.25,1656.2" fill="#03a2d4"/>
<polygon points="1498,1650.8 1503,1660.8 1493,1660.8" fill="#03a2d4"/>
<polygon points="1595,1678.9 1600,1688.9 1590,1688.9" fill="#03a2d4"/>
<polygon points="1643.5,1692.1 1648.5,1702.1 1638.5,1702.1" fill="#03a2d4"/>
<polygon points="1667.75,1688.2 1672.75,1698.2 1662.75,1698.2" fill="#03a2d4"/>
<polygon points="1692,1686.3 1697,1696.3 1687,1696.3" fill="#03a2d4"/>
<polygon points="1764.75,1671.4 1769.75,1681.4 1759.75,1681.4" fill="#03a2d4"/>
<polygon points="1837.5,1668.4 1842.5,1678.4 1832.5,1678.4" fill="#03a2d4"/>
<line x1="1764.75" y1="1644.8" x2="1764.75" y2="1656" stroke="#03a2d4" stroke-width="1.7"/>
<line x1="1759.75" y1="1644.8" x2="1769.75" y2="1644.8" stroke="#03a2d4" stroke-width="1.7"/>
<line x1="1759.75" y1="1656" x2="1769.75" y2="1656" stroke="#03a2d4" stroke-width="1.7"/>
<path d="M1425.25,1651.2 L1498,1651.2 L1595,1657.4 L1643.5,1659.3 L1667.75,1656.6 L1692,1659.3 L1764.75,1649.1 L1837.5,1656.9" fill="none" stroke="#03a2d4" stroke-width="3.5"/>
<rect x="1420.25" y="1646.2" width="10" height="10" fill="#03a2d4"/>
<rect x="1493" y="1646.2" width="10" height="10" fill="#03a2d4"/>
<rect x="1590" y="1652.4" width="10" height="10" fill="#03a2d4"/>
<rect x="1638.5" y="1654.3" width="10" height="10" fill="#03a2d4"/>
<rect x="1662.75" y="1651.6" width="10" height="10" fill="#03a2d4"/>
<rect x="1687" y="1654.3" width="10" height="10" fill="#03a2d4"/>
<rect x="1759.75" y="1644.1" width="10" height="10" fill="#03a2d4"/>
<rect x="1832.5" y="1651.9" width="10" height="10" fill="#03a2d4"/>
<path d="M1425.25,1651.2 L1498,1645.2 L1595,1646.6 L1643.5,1652.5 L1667.75,1649.8 L1692,1654.7" fill="none" stroke="#000" stroke-width="3.5"/>
<circle cx="1425.25" cy="1651.2" r="5" fill="#000"/>
<circle cx="1498" cy="1645.2" r="5" fill="#000"/>
<circle cx="1595" cy="1646.6" r="5" fill="#000"/>
<circle cx="1643.5" cy="1652.5" r="5" fill="#000"/>
<circle cx="1667.75" cy="1649.8" r="5" fill="#000"/>
<circle cx="1692" cy="1654.7" r="5" fill="#000"/>
<rect x="749.2" y="2033.6" width="489.6" height="186" fill="none" stroke="#000" stroke-width="3.8"/>
<line x1="916.1" y1="2033.6" x2="916.1" y2="2219.6" stroke="#000" stroke-width="3.8"/>
<line x1="1035.7" y1="2033.6" x2="1035.7" y2="2219.6" stroke="#000" stroke-width="3.8"/>
<line x1="749.2" y1="2097.6" x2="1238.8" y2="2097.6" stroke="#000" stroke-width="3.8"/>
<line x1="749.2" y1="2159.2" x2="1238.8" y2="2159.2" stroke="#000" stroke-width="3.8"/>
<text x="775.7" y="2074.7" font-size="29.4">Log-rank</text>
<text x="943.6" y="2074.7" font-size="29.4">IR</text>
<text x="1062.7" y="2074.7" font-size="29.4">IR + Ola 25</text>
<text x="775.7" y="2137.9" font-size="29.4">Ctrl</text>
<text x="943.6" y="2137.9" font-size="29.4">***</text>
<text x="1062.7" y="2137.9" font-size="29.4">***</text>
<text x="775.7" y="2199.8" font-size="29.4">IR</text>
<text x="1062.7" y="2199.8" font-size="29.4">ns</text>
<line x1="1400" y1="2040" x2="1440" y2="2040" stroke="#000" stroke-width="4.4"/>
<circle cx="1420" cy="2040" r="5.75" fill="#000"/>
<text x="1447.3" y="2048.2" font-size="23.2">Ctrl</text>
<line x1="1400" y1="2090" x2="1440" y2="2090" stroke="#03a2d4" stroke-width="4.4"/>
<rect x="1414.25" y="2084.25" width="11.5" height="11.5" fill="#03a2d4"/>
<text x="1447.3" y="2098.2" font-size="23.2">IR 4*5.5Gy</text>
<svg x="1400" y="2134" width="40" height="12" viewBox="0 0 40 12">
<line x1="-3" y1="6" x2="7.2" y2="6" stroke="#03a2d4" stroke-width="4.4" stroke-linecap="round"/>
<line x1="19.9" y1="6" x2="25.5" y2="6" stroke="#03a2d4" stroke-width="4.4" stroke-linecap="round"/>
<line x1="37.7" y1="6" x2="46" y2="6" stroke="#03a2d4" stroke-width="4.4" stroke-linecap="round"/>
</svg>
<polygon points="1420,2134.25 1425.75,2145.75 1414.25,2145.75" fill="#03a2d4"/>
<text x="1447.3" y="2148.2" font-size="23.2">IR + Ola 25</text>
</g>
</svg>
</body>
</html>
